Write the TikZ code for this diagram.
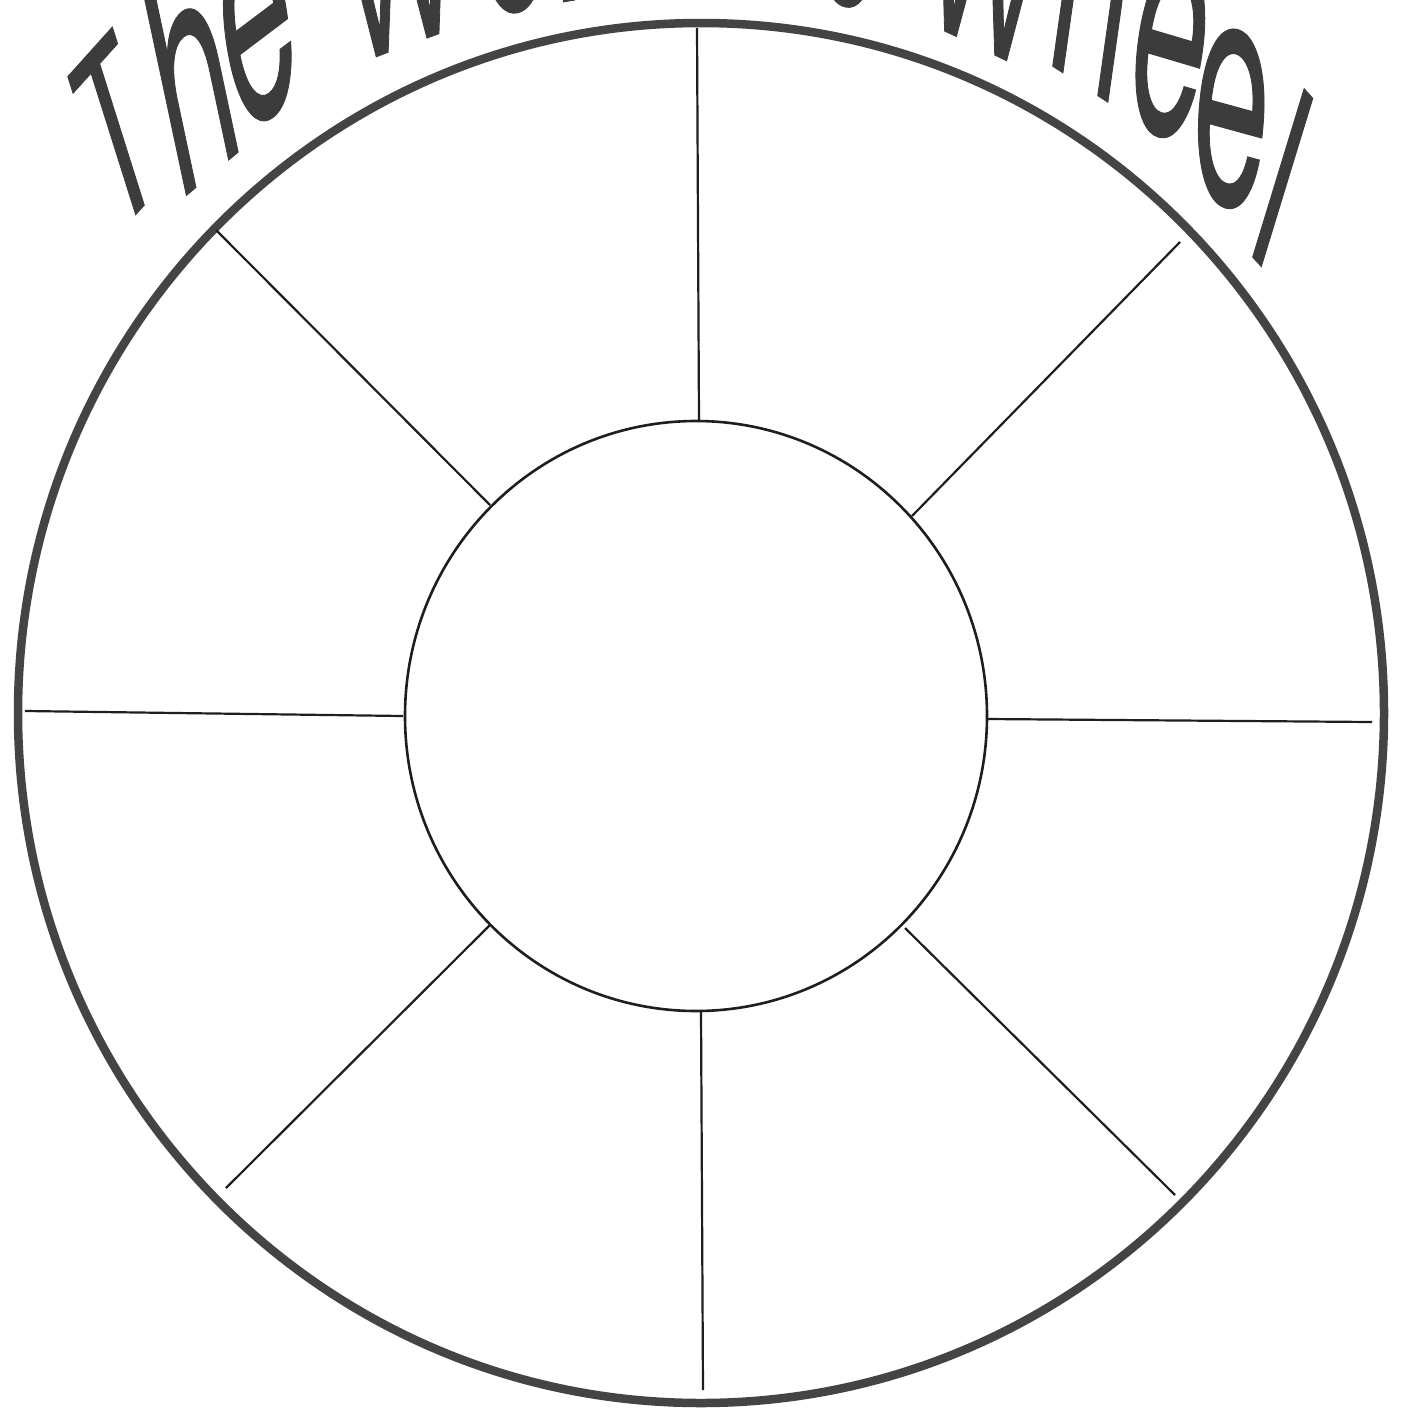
\documentclass[tikz,border=0pt]{standalone}
\usepackage{fontspec}
\newfontfamily\titlefont[FakeStretch=0.5,FakeBold=0.35]{Poppins}
\definecolor{rimgray}{HTML}{444444}
\definecolor{titlegray}{HTML}{3C3C3C}
\definecolor{spokeblack}{HTML}{1E1E1E}
% one letter of the arched title: name, x, y (pixels from top-left), lean, slant, vertical scale, glyph
\newcommand\archletter[7]{%
  \begin{scope}[shift={(#2,-#3)},rotate=#4,yslant=#5,yscale=#6]
    \node[titleglyph,transform shape,anchor=base] (#1) at (0,0) {#7};
  \end{scope}}
\begin{document}
\begin{tikzpicture}[x=1pt,y=1pt,
  rim/.style={draw=rimgray,line width=8.5pt},
  hub/.style={draw=spokeblack,line width=2.6pt},
  spoke/.style={draw=spokeblack,line width=2.2pt},
  titleglyph/.style={inner sep=0pt,outer sep=0pt,text=titlegray,
    font=\titlefont\fontsize{243}{243}\selectfont}]
\useasboundingbox (0,0) rectangle (1406,-1414);
\fill[white] (0,0) rectangle (1406,-1414);
\clip (0,0) rectangle (1406,-1414);
% title letters, following the arch
\archletter{t1}{140}{210}{17.5}{0.59}{0.98}{T}
\archletter{t2}{212}{174}{12}{0.53}{1.2}{h}
\archletter{t3}{272}{115}{10}{0.51}{1.3}{e}
\archletter{w1}{408}{45}{6}{0.25}{1}{W}
\archletter{w2}{517}{10}{4}{0.16}{1.3}{e}
\archletter{w3}{569}{1}{5}{0.07}{1}{l}
\archletter{w4}{601}{-3}{4}{0.05}{1}{l}
\archletter{w5}{654}{-8}{2}{0.02}{1.3}{n}
\archletter{w6}{727}{-9}{-1}{-0.01}{1.3}{e}
\archletter{w7}{793}{-4}{-3}{-0.06}{1.3}{s}
\archletter{w8}{845}{4}{-4}{-0.1}{1.3}{s}
\archletter{h1}{976}{46}{-6}{-0.36}{1}{W}
\archletter{h2}{1080}{84}{-8}{-0.47}{1.2}{h}
\archletter{h3}{1158}{134}{-8}{-0.15}{1.3}{e}
\archletter{h4}{1225}{205}{-4}{-0.2}{1.3}{e}
\archletter{h5}{1257}{262}{-17}{-0.6}{0.98}{l}
% rim and hub
\coordinate (oc) at (701,-713);
\coordinate (ic) at (696,-716);
\draw[rim] (oc) ellipse[x radius=683,y radius=690];
\draw[hub] (ic) ellipse[x radius=291,y radius=295];
% spoke ends
\coordinate (t1e) at (697,-28);   \coordinate (t2e) at (699,-421);
\coordinate (ur1e) at (1180,-242); \coordinate (ur2e) at (912,-516);
\coordinate (r1e) at (1372,-722); \coordinate (r2e) at (987,-719);
\coordinate (lr1e) at (1175,-1195); \coordinate (lr2e) at (905,-928);
\coordinate (b1e) at (703,-1390); \coordinate (b2e) at (701,-1011);
\coordinate (ll1e) at (226,-1188); \coordinate (ll2e) at (490,-925);
\coordinate (l1e) at (25,-711);   \coordinate (l2e) at (403,-716);
\coordinate (ul1e) at (216,-230); \coordinate (ul2e) at (490,-505);
\foreach \s in {t,ur,r,lr,b,ll,l,ul}{
  \draw[spoke] (\s1e) -- (\s2e);
}
\end{tikzpicture}
\end{document}
